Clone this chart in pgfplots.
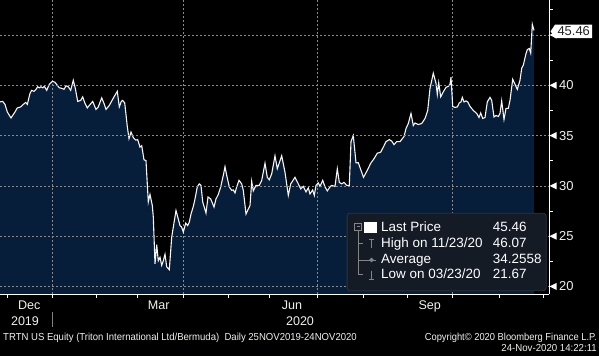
\documentclass[border=0pt]{standalone}
\usepackage{fontspec}
\setmainfont{Liberation Sans}
\usepackage{pgfplots}
\pgfplotsset{compat=1.18}
\usepackage{pgfplotstable}
\definecolor{navyfill}{HTML}{071E3B}
\definecolor{gridc}{HTML}{8A8A8A}
\definecolor{legfill}{HTML}{141B25}
\definecolor{legdraw}{HTML}{2C333C}
\definecolor{treec}{HTML}{858585}
\definecolor{labc}{HTML}{F2F0EA}

\pgfplotstableread{
x y
0 38.35
2.7 38.4
5 38.1
7.3 37.35
11 36.75
15 37.35
17.3 37.75
20.7 37.85
23.3 38.1
25.7 38.3
27.3 38.1
30 39.2
31.7 39.5
34 39.4
36 39.6
37.7 39.85
39.3 39.75
41 39.85
42.7 39.75
44.3 39.9
46.7 39.5
49.3 40.1
52.3 40.4
55 40.3
57.3 40.0
59.3 39.75
61.7 39.7
64 39.6
66 39.95
68.3 39.85
70.7 39.5
73.3 40.5
75.3 39.7
77.7 38.4
80.7 38.5
82.7 38.85
85 38.2
87.3 37.75
89.3 38.0
92.7 38.4
96 37.6
98.3 37.85
101.7 38.75
104 38.2
106 37.6
109.3 38.0
114 38.85
117.3 39.4
119.3 37.85
121.3 38.4
122.7 38.5
124.7 38.25
127.3 35.9
129 34.7
131 35.35
133.3 34.8
135.7 34.55
137.7 34.6
140 33.85
141.7 34.0
144 32.6
146 32.5
148.3 28.4
150 29.15
152.3 28.05
153.3 26.9
155 22.25
156.7 24.15
158.3 22.55
160 22.9
161.7 22.1
163.3 22.55
165 23.2
166.7 21.95
169.3 21.67
171.7 24.9
173.3 25.9
176 27.55
178.3 26.7
180 26.05
181.7 25.9
183.3 25.4
185.7 26.3
187.7 26.05
189.3 26.4
191 27.2
193.3 27.95
195 28.7
197.3 29.9
199.3 30.2
201 30.05
202.7 28.4
206 27.3
208 28.9
210.7 28.7
214 27.9
216 28.7
218.3 29.15
220.7 29.9
223.3 31.05
225 31.9
226.7 31.05
229.3 29.9
231.7 29.55
233.3 29.6
235 29.3
236.7 29.9
239 30.55
241.7 30.2
243.3 29.55
246 27.2
248.3 27.7
250 28.05
251.7 30.45
253.3 29.5
256 30.05
259.3 30.05
261.7 30.55
265 32.25
267.3 30.85
269.3 30.6
271.7 31.2
275 33.0
277.3 31.7
281.7 33.0
285 31.35
288.3 29.05
290.7 30.2
295 30.85
298.3 30.2
300.7 29.7
303.3 29.95
306 29.4
308.3 29.8
310 29.2
312.7 29.6
314.3 29.05
316 30.05
318.3 30.3
320 29.95
322.7 30.55
325 29.9
327.3 29.5
330 29.9
331.7 30.05
335 29.95
337.3 31.7
339.3 30.35
341.7 30.2
344 30.35
346.7 30.05
349.3 30.05
351 34.4
353.3 35.0
356 32.3
358.3 32.3
363.5 30.85
367.3 31.55
370.7 32.25
374 32.7
377.3 33.25
380.7 33.35
383.3 33.85
386 34.4
389.3 34.6
391.7 34.45
394 34.1
396.7 34.4
400 34.4
404 34.9
406 35.7
408.3 36.2
411 37.2
413.3 36.0
415 36.25
418.3 36.1
421.7 36.2
425 36.7
427.7 37.5
430 39.7
433.3 41.2
436 40.2
437.3 39.1
438.7 40.25
440.7 38.85
443.3 39.35
446 39.8
448.3 39.9
450 40.1
451 40.8
452.7 37.9
455 37.8
457.3 37.85
459.3 38.25
461 38.35
462.3 38.8
464 38.35
466 38.45
467.7 38.35
470 37.9
473.3 37.5
476.7 37.2
479 36.8
480.7 37.25
482.7 36.7
485 36.8
487.3 38.35
490 38.8
491.7 38.5
494 36.85
496 37.0
498.3 36.9
500 37.2
501.7 38.45
504 36.6
506 37.7
508.3 37.7
510 38.5
512.7 40.6
515 40.1
517.3 39.6
520 40.5
521.7 41.7
523.3 42.0
526 43.15
527.3 43.55
529.3 43.65
530.7 43.2
532.3 46.07
534 45.46
}\pricedata

\begin{document}
\begin{tikzpicture}
\fill[black] (0,0) rectangle (599bp,-356bp);
\begin{axis}[
  at={(0,0)}, anchor=north west,
  scale only axis, width=549bp, height=294bp,
  xmin=0, xmax=549, ymin=19.25, ymax=48.48,
  axis x line*=bottom, axis y line*=right,
  axis line style={white, line width=0.8bp},
  axis on top,
  clip mode=individual,
  tick align=outside,
  major tick length=0pt,
  minor tick length=3.5bp,
  minor x tick style={white, line width=0.8bp},
  minor y tick style={white, line width=0.8bp},
  xtick={29.2,158.7,292,429.7},
  xticklabels={Dec,Mar,Jun,Sep},
  minor xtick={7,52,96,137,183,228,269,317,363,407,452,499,543},
  extra x ticks={25,300},
  extra x tick labels={2019,2020},
  extra x tick style={xticklabel style={yshift=-16bp}},
  xticklabel style={anchor=base, yshift=-15bp, inner sep=0pt, font=\fontsize{12.6}{14}\selectfont, text=labc},
  ytick={20,25,...,45},
  yticklabels={20,25,30,35,40,},
  minor ytick={22.5,27.5,...,47.5},
  yticklabel style={anchor=west, xshift=10bp, inner sep=0pt, font=\fontsize{13}{15}\selectfont, text=labc},
  ymajorgrids,
  grid style={gridc, line width=0.7bp, dash pattern=on 2bp off 2bp},
  legend cell align=left,
  legend style={
    at={(0.63151,0.27619)}, anchor=north west,
    fill=legfill, draw=legdraw, line width=0.8bp, rounded corners=3bp,
    text=white,
    font=\fontsize{13.5}{16}\selectfont,
    inner xsep=7.3bp, inner ysep=7bp,
    row sep=0pt, column sep=4.5bp,
    nodes={inner xsep=0pt, inner ysep=1bp, text height=10bp, text depth=3.9bp},
  },
]
\addplot[fill=navyfill, draw=none, forget plot] table[x=x,y=y]{\pricedata} \closedcycle;
\draw[gridc, line width=0.7bp, dash pattern=on 2bp off 2bp] (axis cs:52,19.25) -- (axis cs:52,48.48);
\draw[gridc, line width=0.7bp, dash pattern=on 2bp off 2bp] (axis cs:183,19.25) -- (axis cs:183,48.48);
\draw[gridc, line width=0.7bp, dash pattern=on 2bp off 2bp] (axis cs:317,19.25) -- (axis cs:317,48.48);
\draw[gridc, line width=0.7bp, dash pattern=on 2bp off 2bp] (axis cs:452,19.25) -- (axis cs:452,48.48);
\addplot[color=white!92!gray, line width=1.1bp, forget plot] table[x=x,y=y]{\pricedata};
\coordinate (t20) at (axis cs:549,20);
\coordinate (t25) at (axis cs:549,25);
\coordinate (t30) at (axis cs:549,30);
\coordinate (t35) at (axis cs:549,35);
\coordinate (t40) at (axis cs:549,40);
\coordinate (t45) at (axis cs:549,45);
\coordinate (lp) at (axis cs:549,45.46);
\addlegendimage{legend image code/.code={
  \draw[treec, line width=0.8bp, sharp corners] (0bp,-1.75bp) rectangle (6.7bp,4.95bp);
  \draw[treec, line width=0.8bp] (1.7bp,1.6bp) -- (5bp,1.6bp);
  \fill[white, sharp corners] (10bp,-4.5bp) rectangle (21.5bp,6bp);
}}
\addlegendentry{\makebox[157.7bp][l]{\makebox[111.7bp][l]{Last Price}45.46}}
\addlegendimage{legend image code/.code={
  \draw[treec, line width=0.8bp, overlay] (3.35bp,0.7bp) -- (3.35bp,13.9bp);
  \draw[treec, line width=0.8bp] (3.35bp,0.7bp) -- (8.5bp,0.7bp);
  \draw[treec, line width=0.9bp] (16.7bp,-4.3bp) -- (16.7bp,4.7bp);
  \draw[treec, line width=0.9bp] (14.2bp,4.7bp) -- (19.2bp,4.7bp);
}}
\addlegendentry{\makebox[157.7bp][l]{\makebox[111.7bp][l]{High on 11/23/20}46.07}}
\addlegendimage{legend image code/.code={
  \draw[treec, line width=0.8bp, overlay] (3.35bp,0bp) -- (3.35bp,16.7bp);
  \draw[treec, line width=0.8bp] (3.35bp,0bp) -- (21bp,0bp);
  \fill[treec] (16.7bp,0bp) circle (1.8bp);
}}
\addlegendentry{\makebox[157.7bp][l]{\makebox[111.7bp][l]{Average}34.2558}}
\addlegendimage{legend image code/.code={
  \draw[treec, line width=0.8bp, overlay] (3.35bp,1bp) -- (3.35bp,16.9bp);
  \draw[treec, line width=0.8bp] (3.35bp,1bp) -- (8.5bp,1bp);
  \draw[treec, line width=0.9bp] (16.7bp,5.3bp) -- (16.7bp,-4bp);
  \draw[treec, line width=0.9bp] (14bp,-4bp) -- (19.4bp,-4bp);
}}
\addlegendentry{\makebox[157.7bp][l]{\makebox[111.7bp][l]{Low on 03/23/20}21.67}}
\end{axis}
\foreach \t in {t20,t25,t30,t35,t40,t45}{
  \fill[white] ([xshift=0.5bp]\t) -- ++(7bp,3.5bp) -- ++(0,-7bp) -- cycle;
}
\fill[white] ([xshift=1.5bp,yshift=-1bp]lp) -- ++(4.5bp,6.7bp) -- ++(37bp,0) -- ++(0,-13.4bp) -- ++(-37bp,0) -- cycle;
\node[anchor=west, inner sep=0pt, text=black!85, font=\fontsize{13}{15}\selectfont] at ([xshift=8.3bp,yshift=-1bp]lp) {45.46};
\draw[gray, line width=0.8bp] (52bp,-311.7bp) -- (52bp,-326.7bp);
\node[anchor=base west, inner sep=0pt, text=labc, font=\fontsize{10.2}{12}\selectfont] at (3bp,-340bp) {\scalebox{0.94}[1]{TRTN US Equity (Triton International Ltd/Bermuda)\ \ Daily 25NOV2019-24NOV2020}};
\node[anchor=base east, inner sep=0pt, text=labc, font=\fontsize{10.2}{12}\selectfont] at (597bp,-340bp) {\scalebox{0.92}[1]{Copyright© 2020 Bloomberg Finance L.P.}};
\node[anchor=base east, inner sep=0pt, text=labc, font=\fontsize{10.2}{12}\selectfont] at (597bp,-351bp) {\scalebox{0.95}[1]{24-Nov-2020 14:22:11}};
\pgfresetboundingbox
\useasboundingbox (0,0) rectangle (599bp,-356bp);
\end{tikzpicture}
\end{document}
